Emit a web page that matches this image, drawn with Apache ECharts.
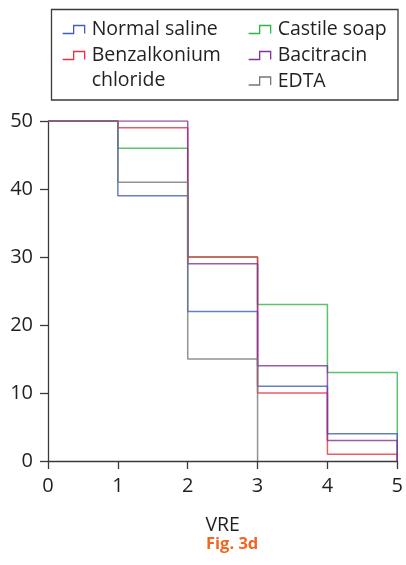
<!DOCTYPE html>
<html>
<head>
<meta charset="utf-8">
<script src="https://cdn.jsdelivr.net/npm/echarts@6/dist/echarts.min.js"></script>
<style>
html,body{margin:0;padding:0;background:#fff;}
#chart{width:406px;height:565px;}
</style>
</head>
<body>
<div id="chart"></div>
<script>
// ---- data ----
var vre = [0, 1, 2, 3, 4, 5];
var normalSaline = [50, 39, 22, 11, 4, 0];
var benzalkonium = [50, 49, 30, 10, 1, 0];
var castileSoap = [50, 46, 30, 23, 13, 0];
var bacitracin = [50, 50, 29, 14, 3, 0];
var edta = [50, 41, 15, 0];
var yTicks = [0, 10, 20, 30, 40, 50];
var xTicks = [0, 1, 2, 3, 4, 5];
var seriesNames = ['Normal saline', 'Benzalkonium chloride', 'Castile soap', 'Bacitracin', 'EDTA'];
var xTitle = 'VRE';
var figLabel = 'Fig. 3d';

var colors = {
  'Normal saline': '#3f5fb8',
  'Benzalkonium chloride': '#e8303f',
  'Castile soap': '#2fb545',
  'Bacitracin': '#86309a',
  'EDTA': '#777777'
};

function pts(vals) {
  return vals.map(function (v, i) { return [vre[i], v]; });
}

var FONT = 'Open Sans';
var TEXT = '#231f20';

var glyph1 = 'path://M0,8 L11,8 L11,0 L22,0 L22,8 M24,8';
var glyph2 = 'path://M0,0 M24,33 M0,8 L11,8 L11,0 L22,0 L22,8';

function mkLegend(name, left, top, two) {
  return {
    show: true,
    left: left,
    top: top,
    padding: 0,
    orient: 'vertical',
    itemWidth: 24,
    itemHeight: two ? 33 : 8,
    selectedMode: false,
    formatter: function (n) { return n === 'Benzalkonium chloride' ? 'Benzalkonium\nchloride' : n; },
    textStyle: { fontFamily: FONT, fontSize: 19.5, color: TEXT, lineHeight: 25 },
    data: [{
      name: name,
      icon: two ? glyph2 : glyph1,
      itemStyle: { color: 'rgba(0,0,0,0)', borderColor: colors[name], borderWidth: 1.3, opacity: 1 }
    }]
  };
}

var drawOrder = [
  ['Castile soap', castileSoap],
  ['Normal saline', normalSaline],
  ['Benzalkonium chloride', benzalkonium],
  ['Bacitracin', bacitracin],
  ['EDTA', edta]
];

var chart = echarts.init(document.getElementById('chart'), null, { renderer: 'canvas' });
chart.setOption({
  animation: false,
  backgroundColor: '#fff',
  textStyle: { fontFamily: FONT },
  title: {
    text: figLabel,
    left: 206,
    top: 534,
    padding: 0,
    textStyle: { fontFamily: FONT, fontSize: 16.5, fontWeight: 'bold', color: '#f26522', lineHeight: 20 }
  },
  graphic: [{
    type: 'rect',
    shape: { x: 51.5, y: 9.5, width: 346.5, height: 90.5 },
    style: { fill: 'none', stroke: '#3a3a3a', lineWidth: 1.3 },
    silent: true
  }],
  legend: [
    mkLegend('Normal saline', 62, 17, false),
    mkLegend('Benzalkonium chloride', 62, 43, true),
    mkLegend('Castile soap', 248, 17, false),
    mkLegend('Bacitracin', 248, 43, false),
    mkLegend('EDTA', 248, 68.5, false)
  ],
  grid: { left: 48, right: 6, top: 121, bottom: 104, containLabel: false },
  xAxis: {
    type: 'value',
    min: xTicks[0],
    max: xTicks[xTicks.length - 1],
    interval: 1,
    name: xTitle,
    nameLocation: 'middle',
    nameGap: 54,
    nameTextStyle: { fontFamily: FONT, fontSize: 19.5, color: TEXT },
    axisLine: { show: true, onZero: false, lineStyle: { color: '#3a3a3a', width: 1.3 } },
    axisTick: { show: true, inside: false, length: 8, lineStyle: { color: '#3a3a3a', width: 1.3 } },
    axisLabel: { fontFamily: FONT, fontSize: 20, color: TEXT, margin: 15 },
    splitLine: { show: false }
  },
  yAxis: {
    type: 'value',
    min: yTicks[0],
    max: yTicks[yTicks.length - 1],
    interval: 10,
    axisLine: { show: true, onZero: false, lineStyle: { color: '#3a3a3a', width: 1.3 } },
    axisTick: { show: true, inside: false, length: 8, lineStyle: { color: '#3a3a3a', width: 1.3 } },
    axisLabel: { fontFamily: FONT, fontSize: 20, color: TEXT, margin: 15 },
    splitLine: { show: false }
  },
  series: drawOrder.map(function (d) {
    return {
      name: d[0],
      type: 'line',
      step: 'end',
      symbol: 'none',
      data: pts(d[1]),
      color: colors[d[0]],
      lineStyle: { width: 1.5, color: colors[d[0]], opacity: 0.8 },
      emphasis: { disabled: true }
    };
  })
});
</script>
</body>
</html>
